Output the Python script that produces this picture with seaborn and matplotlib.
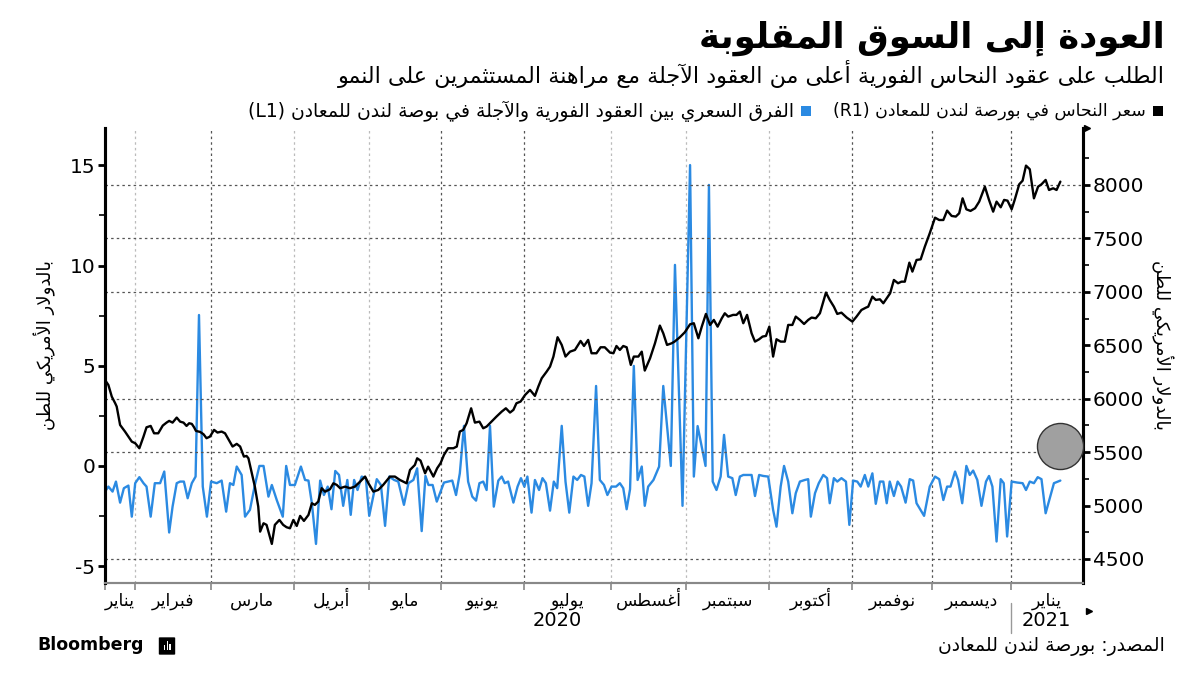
import matplotlib
matplotlib.use("Agg")
import matplotlib.pyplot as plt
import matplotlib.transforms as mtransforms
from matplotlib.patches import FancyBboxPatch, Rectangle
import pandas as pd
import seaborn as sns

# ---------------- data (x = trading-day index from 21 Jan 2020) ----------------
price_day = [0.0, 0.9, 1.8, 2.7, 3.1, 4.0, 5.3, 7.1, 8.0, 9.1, 10.2, 11.0, 12.1, 13.0, 14.1, 15.3,
             16.3, 17.0, 17.9, 19.0, 19.9, 20.8, 21.6, 22.3, 23.0, 23.6, 24.1, 25.2, 26.1, 26.9,
             27.8, 28.9, 29.8, 30.9, 31.8, 32.7, 33.8, 34.9, 35.8, 36.8, 37.5, 38.0, 38.9, 39.7,
             40.6, 41.1, 42.0, 42.8, 44.2, 45.0, 46.2, 47.2, 48.1, 49.0, 49.9, 50.8, 51.7, 52.7,
             53.9, 54.8, 55.6, 56.5, 57.4, 58.3, 59.6, 60.5, 61.4, 62.3, 63.6, 64.9, 66.2, 67.6,
             68.9, 69.8, 71.1, 72.4, 73.7, 75.5, 76.8, 78.1, 79.9, 80.8, 82.1, 82.7, 83.6, 84.8,
             85.6, 87.0, 88.0, 88.9, 89.8, 90.9, 92.3, 93.2, 94.0, 94.9, 95.8, 97.0, 98.0, 99.2,
             100.2, 101.1, 102.4, 103.7, 105.1, 106.2, 107.3, 108.2, 109.0, 110.1, 111.3, 112.6,
             113.9, 114.8, 115.7, 117.0, 117.9, 118.8, 119.9, 121.0, 122.0, 123.2, 124.5, 126.0,
             126.9, 128.0, 128.9, 130.2, 131.3, 132.4, 133.8, 134.7, 135.5, 136.4, 137.3, 138.2,
             139.3, 140.1, 141.3, 142.2, 143.0, 144.4, 145.7, 147.0, 147.9, 148.9, 150.1, 150.9,
             152.3, 153.6, 155.0, 156.0, 157.2, 158.1, 159.2, 160.3, 161.3, 162.3, 163.4, 164.2,
             165.1, 166.4, 167.3, 168.2, 169.1, 170.1, 171.3, 172.2, 173.3, 174.2, 175.1, 176.0,
             177.0, 177.9, 179.0, 180.1, 181.0, 182.1, 183.0, 184.1, 185.2, 186.3, 187.2, 188.3,
             189.4, 191.0, 192.0, 193.1, 194.0, 195.1, 196.5, 198.0, 199.1, 200.4, 201.6, 202.2,
             203.3, 204.2, 205.3, 206.2, 207.1, 208.0, 209.0, 210.1, 211.0, 211.9, 213.1, 213.9,
             215.0, 216.1, 217.2, 218.5, 219.9, 221.0, 222.1, 223.1, 224.3, 225.4, 226.3, 227.2,
             228.2, 229.3, 230.5, 231.6, 233.1, 234.2, 235.3, 236.2, 237.3, 238.2, 239.1, 240.2,
             241.0, 242.2, 243.1, 244.0, 245.0, 246.1, 247.2, 248.1, 249.2, 250.1, 251.2, 252.1,
             253.1]
price_usd = [6175, 6128, 6019, 5957, 5926, 5754, 5692, 5598, 5583, 5536, 5645, 5732, 5745, 5676,
             5676, 5748, 5776, 5792, 5776, 5823, 5785, 5776, 5745, 5770, 5764, 5732, 5698, 5689,
             5667, 5630, 5645, 5708, 5683, 5692, 5676, 5620, 5552, 5577, 5552, 5458, 5464, 5442,
             5302, 5177, 4990, 4756, 4834, 4819, 4641, 4819, 4865, 4819, 4797, 4787, 4865, 4809,
             4903, 4856, 4912, 5021, 5006, 5037, 5162, 5130, 5152, 5208, 5193, 5162, 5177, 5162,
             5177, 5224, 5271, 5208, 5130, 5146, 5193, 5271, 5271, 5240, 5208, 5333, 5380, 5442,
             5420, 5302, 5364, 5271, 5349, 5396, 5474, 5536, 5536, 5552, 5692, 5708, 5770, 5910,
             5776, 5785, 5723, 5739, 5785, 5832, 5879, 5910, 5870, 5895, 5957, 5973, 6035, 6082,
             6026, 6113, 6191, 6253, 6300, 6394, 6575, 6503, 6394, 6440, 6456, 6540, 6493, 6550,
             6425, 6425, 6481, 6481, 6431, 6425, 6493, 6456, 6493, 6481, 6316, 6394, 6394, 6440,
             6263, 6378, 6518, 6684, 6612, 6503, 6518, 6534, 6575, 6621, 6696, 6706, 6565, 6674,
             6793, 6690, 6737, 6674, 6752, 6799, 6768, 6784, 6784, 6815, 6706, 6784, 6612, 6534,
             6556, 6581, 6587, 6674, 6394, 6556, 6534, 6534, 6690, 6690, 6768, 6737, 6699, 6737,
             6759, 6752, 6799, 6993, 6924, 6861, 6793, 6805, 6759, 6721, 6768, 6830, 6852, 6861,
             6955, 6924, 6930, 6893, 6940, 6986, 7111, 7080, 7095, 7095, 7273, 7189, 7298, 7304,
             7423, 7548, 7694, 7672, 7672, 7760, 7710, 7704, 7735, 7875, 7772, 7757, 7782, 7844,
             7984, 7860, 7750, 7844, 7791, 7860, 7853, 7772, 7860, 8006, 8040, 8181, 8147, 7875,
             7984, 8006, 8047, 7953, 7969, 7953, 8031]

spread_day = [0.0, 0.9, 2.0, 2.9, 4.0, 5.0, 6.2, 7.1, 8.0, 9.1, 10.2, 11.0, 12.1, 13.2, 14.6, 15.7,
              17.0, 17.9, 19.0, 19.9, 20.9, 21.9, 23.0, 24.0, 24.9, 25.9, 27.0, 28.1, 29.6, 30.9,
              32.1, 33.1, 34.0, 34.9, 36.2, 37.1, 38.4, 39.7, 40.9, 42.0, 43.3, 44.2, 45.5, 47.1,
              48.0, 49.0, 50.3, 51.9, 53.0, 53.9, 54.8, 55.9, 57.0, 58.0, 59.0, 60.0, 61.0, 62.0,
              63.1, 64.2, 65.1, 66.0, 66.9, 68.0, 69.1, 70.0, 72.0, 73.1, 74.2, 75.3, 76.6, 77.7,
              79.2, 80.4, 81.7, 82.7, 83.9, 84.9, 85.7, 86.8, 87.9, 88.9, 89.8, 90.9, 92.0, 93.0,
              94.0, 95.1, 96.2, 97.3, 98.3, 99.2, 100.2, 101.1, 102.0, 103.0, 104.2, 105.1, 105.9,
              106.8, 108.2, 109.3, 110.2, 111.1, 111.9, 113.0, 113.9, 115.0, 115.9, 116.8, 117.9,
              118.9, 119.8, 121.0, 122.0, 123.0, 124.1, 125.1, 126.1, 127.0, 128.0, 128.9, 130.1,
              131.1, 132.2, 133.1, 134.2, 135.4, 136.4, 137.3, 138.2, 139.1, 140.1, 141.1, 142.2,
              143.0, 143.9, 145.3, 146.8, 147.9, 149.9, 151.0, 153.0, 155.0, 156.0, 157.0, 159.1,
              160.0, 161.0, 162.0, 163.1, 164.0, 165.1, 166.2, 167.1, 168.2, 169.1, 171.3, 172.2,
              173.3, 174.4, 175.7, 177.0, 177.9, 179.0, 179.9, 181.0, 182.1, 183.0, 184.1, 185.4,
              186.3, 187.0, 188.1, 189.1, 190.3, 191.3, 192.0, 193.1, 194.0, 195.1, 196.3, 197.2,
              198.2, 199.3, 200.2, 201.3, 202.2, 203.3, 204.2, 205.3, 206.2, 207.1, 207.9, 209.0,
              210.0, 210.9, 212.1, 213.2, 214.1, 215.0, 217.0, 218.5, 219.9, 221.0, 222.1, 223.1,
              224.0, 225.2, 226.0, 227.1, 228.2, 229.1, 230.0, 231.1, 232.2, 233.4, 234.2, 235.1,
              236.2, 237.3, 238.1, 239.0, 240.2, 241.7, 243.1, 244.0, 245.0, 246.1, 247.1, 248.1,
              249.2, 250.3, 251.4, 253.1]
spread_usd = [-1.28, -1.03, -1.28, -0.78, -1.83, -1.11, -0.98, -2.53, -0.86, -0.56, -0.86, -1.03,
              -2.53, -0.86, -0.86, -0.28, -3.32, -2.03, -0.86, -0.78, -0.78, -1.61, -0.86, -0.53,
              7.53, -1.03, -2.53, -0.78, -0.86, -0.73, -2.28, -0.86, -0.95, -0.03, -0.45, -2.53,
              -2.19, -0.95, 0.0, 0.0, -1.53, -0.95, -1.70, -2.53, 0.0, -0.95, -0.95, -0.03, -0.70,
              -0.73, -1.86, -3.89, -0.73, -1.45, -1.03, -2.16, -0.25, -0.45, -1.99, -0.70, -2.44,
              -0.70, -1.20, -0.53, -0.61, -2.49, -0.66, -0.95, -2.99, -0.53, -0.70, -0.78, -1.94,
              -0.86, -0.70, -0.12, -3.25, -0.50, -0.95, -0.95, -1.78, -1.28, -0.83, -0.78, -0.73,
              -1.45, -0.37, 2.00, -0.78, -1.53, -1.73, -0.86, -0.78, -1.20, 2.00, -2.03, -0.73,
              -0.53, -0.86, -0.78, -1.83, -1.03, -0.61, -1.03, -0.53, -2.33, -0.70, -1.20, -0.61,
              -0.86, -2.23, -0.78, -1.11, 2.00, -0.78, -2.33, -0.53, -0.70, -0.45, -0.53, -1.99,
              -0.86, 3.99, -0.70, -0.95, -1.45, -1.03, -1.03, -0.86, -1.11, -2.16, -1.16, 4.99,
              -0.70, -0.03, -1.99, -1.03, -0.70, -0.03, 3.99, 0.0, 10.03, -1.99, 15.01, -0.53,
              1.99, 0.0, 14.02, -0.78, -1.20, -0.53, 1.55, -0.53, -0.61, -1.45, -0.53, -0.45,
              -0.45, -1.50, -0.45, -0.50, -0.53, -2.19, -3.03, -1.03, 0.0, -0.78, -2.36, -1.36,
              -0.78, -0.70, -0.66, -2.53, -1.36, -0.86, -0.45, -0.61, -1.86, -0.61, -0.78, -0.61,
              -0.78, -2.94, -0.73, -0.78, -1.03, -0.45, -1.03, -0.37, -1.89, -0.78, -0.78, -1.86,
              -0.78, -1.50, -0.78, -1.03, -1.83, -0.66, -0.73, -1.86, -2.49, -1.03, -0.53, -0.66,
              -1.70, -1.03, -1.03, -0.28, -0.70, -1.86, 0.0, -0.45, -0.23, -0.70, -1.99, -0.78,
              -0.50, -1.03, -3.77, -0.66, -0.86, -3.52, -0.78, -0.83, -0.86, -1.20, -0.78, -0.86,
              -0.56, -0.66, -2.36, -1.61, -0.86, -0.73]

month_start = [0, 8, 28, 50, 70, 89, 111, 134, 154, 176, 198, 219, 240]
month_labels = ["يناير", "فبراير", "مارس", "أبريل", "مايو", "يونيو", "يوليو",
                "أغسطس", "سبتمبر", "أكتوبر", "نوفمبر", "ديسمبر", "يناير"]
axis_end = 259.1
year_labels = ["2020", "2021"]
year_pos = [119.7, 249.5]
left_ticks = [-5, 0, 5, 10, 15]
right_ticks = [4500, 5000, 5500, 6000, 6500, 7000, 7500, 8000]
h_grid = [4500, 5500, 6000, 7000, 7500, 8000]
marker_point = (253.1, 5558)

title = "العودة إلى السوق المقلوبة"
subtitle = "الطلب على عقود النحاس الفورية أعلى من العقود الآجلة مع مراهنة المستثمرين على النمو"
legend_price = "سعر النحاس في بورصة لندن للمعادن (R1)"
legend_spread = "الفرق السعري بين العقود الفورية والآجلة في بوصة لندن للمعادن (L1)"
ylabel = "بالدولار الأمريكي للطن"
source = "المصدر: بورصة لندن للمعادن"

# ---------------- minimal Arabic shaping + RTL ordering ----------------
DUAL = {'ئ': 0xFE89, 'ب': 0xFE8F, 'ت': 0xFE95, 'ث': 0xFE99, 'ج': 0xFE9D, 'ح': 0xFEA1,
        'خ': 0xFEA5, 'س': 0xFEB1, 'ش': 0xFEB5, 'ص': 0xFEB9, 'ض': 0xFEBD, 'ط': 0xFEC1,
        'ظ': 0xFEC5, 'ع': 0xFEC9, 'غ': 0xFECD, 'ف': 0xFED1, 'ق': 0xFED5, 'ك': 0xFED9,
        'ل': 0xFEDD, 'م': 0xFEE1, 'ن': 0xFEE5, 'ه': 0xFEE9, 'ي': 0xFEF1}
RIGHT = {'آ': 0xFE81, 'أ': 0xFE83, 'ؤ': 0xFE85, 'إ': 0xFE87, 'ا': 0xFE8D, 'ة': 0xFE93,
         'د': 0xFEA9, 'ذ': 0xFEAB, 'ر': 0xFEAD, 'ز': 0xFEAF, 'و': 0xFEED, 'ى': 0xFEEF}
LAMALEF = {'آ': 0xFEF5, 'أ': 0xFEF7, 'إ': 0xFEF9, 'ا': 0xFEFB}
MIRROR = {'(': ')', ')': '(', '[': ']', ']': '['}


def shape(text):
    out, i, n = [], 0, len(text)
    while i < n:
        c = text[i]
        prev = text[i - 1] in DUAL if i > 0 else False
        if c == 'ل' and i + 1 < n and text[i + 1] in LAMALEF:
            out.append(chr(LAMALEF[text[i + 1]] + (1 if prev else 0)))
            i += 2
            continue
        if c in DUAL or c in RIGHT:
            base = DUAL.get(c, RIGHT.get(c))
            nxt = c in DUAL and i + 1 < n and (text[i + 1] in DUAL or text[i + 1] in RIGHT)
            if prev and nxt:
                out.append(chr(base + 3))
            elif prev:
                out.append(chr(base + 1))
            elif nxt:
                out.append(chr(base + 2))
            else:
                out.append(chr(base))
        else:
            out.append(c)
        i += 1
    return ''.join(out)


def ar(text):
    s = shape(text)
    runs = []
    for ch in s:
        ltr = ch.isascii() and ch.isalnum()
        if runs and runs[-1][0] == ltr:
            runs[-1][1].append(ch)
        else:
            runs.append([ltr, [ch]])
    pieces = []
    for ltr, chars in reversed(runs):
        if ltr:
            pieces.append(''.join(chars))
        else:
            pieces.append(''.join(MIRROR.get(c, c) for c in reversed(chars)))
    return ''.join(pieces)


# ---------------- figure ----------------
sns.set_theme(style="white")
plt.rcParams['font.family'] = ['DejaVu Sans']
plt.rcParams['axes.unicode_minus'] = False
plt.rcParams['text.color'] = 'black'

W, H = 1200, 675
fig = plt.figure(figsize=(12, 6.75), dpi=100)
ax = fig.add_axes([105 / W, 1 - 583 / H, 978 / W, 455 / H])
ax2 = ax.twinx()

BLUE = "#2b8ae2"
spread_df = pd.DataFrame({"day": spread_day, "usd": spread_usd})
price_df = pd.DataFrame({"day": price_day, "usd": price_usd})
sns.lineplot(data=spread_df, x="day", y="usd", ax=ax, color=BLUE, lw=1.7,
             sort=False, estimator=None)
sns.lineplot(data=price_df, x="day", y="usd", ax=ax2, color="black", lw=1.7,
             sort=False, estimator=None)
ax2.scatter([marker_point[0]], [marker_point[1]], s=1100, color="#a0a0a0",
            edgecolor="#333333", linewidth=1.0, zorder=5, clip_on=False)

ax.set_xlim(0, axis_end)
ax.set_ylim(-5.84, 16.86)
ax2.set_ylim(4275, 8533)

# gridlines
for lvl in h_grid:
    ax2.axhline(lvl, color="#555555", lw=0.9, ls=(0, (2, 2.5)), zorder=0)
grid_dark = [False, True, False, False, True, True, False, False, False, True, True, True]
for d, dark in zip(month_start[1:], grid_dark):
    ax.axvline(d, color="#555555" if dark else "#bbbbbb", lw=0.9, ls=(0, (2, 2.5)), zorder=0)

# spines
for a in (ax, ax2):
    a.spines['top'].set_visible(False)
    a.spines['left'].set_color('black')
    a.spines['right'].set_color('black')
    a.spines['left'].set_linewidth(2.2)
    a.spines['right'].set_linewidth(2.2)
    a.spines['bottom'].set_color('#888888')
    a.spines['bottom'].set_linewidth(1.5)
    a.set_xlabel("")
    a.set_ylabel("")

# y ticks
ax.set_yticks(left_ticks)
ax.set_yticks([-2.5, 2.5, 7.5, 12.5], minor=True)
ax.tick_params(axis='y', which='major', direction='out', length=5, width=2, color='black',
               labelsize=14.5, pad=2, left=True, labelcolor='black')
ax.tick_params(axis='y', which='minor', direction='out', length=4, width=1.2, color='black', left=True)
ax2.set_yticks(right_ticks)
ax2.set_yticks([4750, 5250, 5750, 6250, 6750, 7250, 7750, 8250], minor=True)
ax2.tick_params(axis='y', which='major', direction='out', length=5, width=2, color='black',
                labelsize=14.5, pad=2, right=True, labelcolor='black')
ax2.tick_params(axis='y', which='minor', direction='out', length=4, width=1.2, color='black', right=True)

# x ticks: boundaries (marks); month names centred between them on a common baseline
ax.set_xticks(month_start)
ax.set_xticklabels([])
ax.tick_params(axis='x', which='major', direction='out', length=5, width=1.2, color='#888888', bottom=True)
ax2.tick_params(axis='x', which='both', length=0)
trans = mtransforms.blended_transform_factory(ax.transData, ax.transAxes)
centers = [(a + b) / 2 for a, b in zip(month_start, month_start[1:] + [axis_end])]
for c, m in zip(centers, month_labels):
    ax.text(c, -0.05, ar(m), transform=trans, ha='center', va='baseline', fontsize=12.5,
            color='black')

for lab, pos in zip(year_labels, year_pos):
    ax.text(pos, -0.083, lab, transform=trans, ha='center', va='center', fontsize=14, color="black")
ax.plot([month_start[-1], month_start[-1]], [-0.045, -0.11], transform=trans, color="#999999",
        lw=1, clip_on=False)
ax.plot([1.006], [-0.062], transform=ax.transAxes, marker='>', ms=4, color='black', clip_on=False)
ax.plot([1.004], [1.0], transform=ax.transAxes, marker='>', ms=5, color='black', clip_on=False)

# axis titles
fig.text(45 / W, 1 - 345 / H, ar(ylabel), rotation=90, ha='center', va='center', fontsize=13)
fig.text(1162 / W, 1 - 345 / H, ar(ylabel), rotation=-90, ha='center', va='center', fontsize=13)

# titles
fig.text(1165 / W, 1 - 38 / H, ar(title), ha='right', va='center', fontsize=25.5,
         fontweight='bold', color='black')
fig.text(1165 / W, 1 - 74 / H, ar(subtitle), ha='right', va='center', fontsize=16, color='black')

# legend
fig.canvas.draw()
renderer = fig.canvas.get_renderer()
ly = 1 - 111 / H
fig.patches.append(Rectangle((1153 / W, ly - 5 / H), 10 / W, 10 / H, transform=fig.transFigure,
                             facecolor='black', edgecolor='none'))
t1 = fig.text(1146 / W, ly, ar(legend_price), ha='right', va='center', fontsize=12.5)
bb = t1.get_window_extent(renderer)
x_sq = bb.x0 - 32
fig.patches.append(Rectangle((x_sq / W, ly - 5 / H), 10 / W, 10 / H, transform=fig.transFigure,
                             facecolor=BLUE, edgecolor='none'))
fig.text((x_sq - 7) / W, ly, ar(legend_spread), ha='right', va='center', fontsize=13.5)

# footer
fig.text(37 / W, 1 - 645 / H, "Bloomberg", ha='left', va='center', fontsize=12.5, fontweight='bold')
fig.patches.append(FancyBboxPatch((160 / W, 1 - 654 / H), 14 / W, 16 / H, transform=fig.transFigure,
                                  boxstyle="round,pad=0.001", facecolor='black', edgecolor='none'))
for bx, bh in zip([163.5, 166.5, 169.5], [5, 9, 6]):
    fig.patches.append(Rectangle((bx / W, (1 - 650 / H)), 1.5 / W, bh / H, transform=fig.transFigure,
                                 facecolor='white', edgecolor='none'))
fig.text(1165 / W, 1 - 647 / H, ar(source), ha='right', va='center', fontsize=13.5)

fig.savefig("out.png", dpi=100)
